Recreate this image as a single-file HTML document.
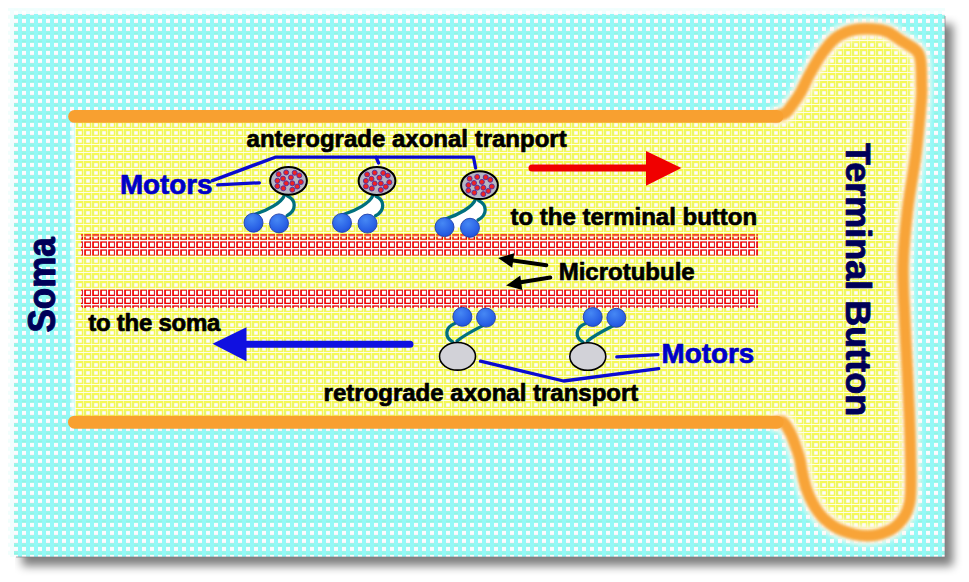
<!DOCTYPE html>
<html><head><meta charset="utf-8"><style>
html,body{margin:0;padding:0;background:#fff;width:969px;height:582px;overflow:hidden}
svg{display:block}
</style></head><body>
<svg width="969" height="582" viewBox="0 0 969 582">
<defs>
  <pattern id="cyan" patternUnits="userSpaceOnUse" x="0" y="0" width="8" height="8">
    <rect width="8" height="8" fill="#8cf4e2"/>
    <rect x="0" y="0.2" width="8" height="1" fill="#94f8f0"/>
    <rect x="2" y="0" width="4" height="8" fill="#94f9f8"/>
    <rect x="6" y="2.8" width="4" height="4.3" fill="#fcfcfe"/>
    <rect x="-2" y="2.8" width="4" height="4.3" fill="#fcfcfe"/>
    <rect x="6" y="6.4" width="4" height="0.7" fill="#fbeefa"/>
    <rect x="-2" y="6.4" width="4" height="0.7" fill="#fbeefa"/>
  </pattern>
  <pattern id="yel" patternUnits="userSpaceOnUse" x="0" y="0" width="8" height="8">
    <rect width="8" height="8" fill="#f5f855"/>
    <rect x="4" y="3" width="2" height="4" fill="#e8f76a"/>
    <rect x="3" y="0" width="1" height="8" fill="#fafca8"/>
    <rect x="0" y="0" width="8" height="1" fill="#fdfde8"/>
    <rect x="6.2" y="3.2" width="3.6" height="3.5" fill="#fdfafd"/>
    <rect x="-1.8" y="3.2" width="3.6" height="3.5" fill="#fdfafd"/>
  </pattern>
  <pattern id="mt" patternUnits="userSpaceOnUse" x="4" y="1" width="8" height="8">
    <rect width="8" height="8" fill="#f4fcfc"/>
    <rect x="0.2" y="0.4" width="6.6" height="6.6" fill="#f20000"/>
    <rect x="1.9" y="1.7" width="4" height="4" fill="#ffffff"/>
    <rect x="6.3" y="0.4" width="0.5" height="6.6" fill="#a00020" opacity="0.6"/>
  </pattern>
  <pattern id="mt1" patternUnits="userSpaceOnUse" x="4" y="234" width="8" height="8">
    <rect x="0.3" y="0.2" width="6.7" height="1.5" fill="#f01818"/>
    <rect x="0.3" y="2.7" width="6.7" height="3" fill="#f20000"/>
    <rect x="1.7" y="2.7" width="3.9" height="1.9" fill="#ffffff"/>
    <rect x="6.4" y="2.7" width="0.6" height="3" fill="#b80018" opacity="0.6"/>
  </pattern>
  <radialGradient id="ball" cx="0.4" cy="0.3" r="0.75">
    <stop offset="0" stop-color="#4688f4"/>
    <stop offset="0.7" stop-color="#2a62e6"/>
    <stop offset="1" stop-color="#1f4fd6"/>
  </radialGradient>
  <filter id="shadow" x="-10%" y="-10%" width="120%" height="120%">
    <feGaussianBlur stdDeviation="5"/>
  </filter>
  <filter id="soft" x="-10%" y="-10%" width="120%" height="120%">
    <feGaussianBlur stdDeviation="1.5"/>
  </filter>
  <filter id="soft2" x="-10%" y="-10%" width="120%" height="120%">
    <feGaussianBlur stdDeviation="1.8"/>
  </filter>
  <filter id="halo" x="-10%" y="-10%" width="120%" height="120%">
    <feGaussianBlur stdDeviation="2.5"/>
  </filter>
  <clipPath id="shclip"><rect x="15" y="15" width="954" height="567"/></clipPath>
</defs>
<rect width="969" height="582" fill="#ffffff"/>
<g clip-path="url(#shclip)"><rect x="22" y="24" width="931" height="542" fill="#000" opacity="0.5" filter="url(#shadow)"/></g>
<rect x="8" y="8" width="937" height="6" fill="url(#cyan)" opacity="0.13"/>
<rect x="8" y="14" width="6" height="543" fill="url(#cyan)" opacity="0.13"/>
<rect x="14" y="14" width="931" height="543" fill="url(#cyan)"/>
<path d="M945,16 V557 H16" fill="none" stroke="#8a7f88" stroke-width="1" opacity="0.7"/>
<path d="M776,116.4 C777.6,115.8 782.8,114.9 785.5,113.0 C788.2,111.1 789.6,108.2 792.0,105.0 C794.4,101.8 796.9,98.9 799.9,93.7 C802.9,88.5 806.2,80.4 809.9,73.8 C813.5,67.2 817.5,59.9 821.8,53.9 C826.1,47.9 830.5,41.9 835.8,37.9 C841.1,33.9 847.4,31.4 853.7,29.9 C860.0,28.4 868.0,28.6 873.6,28.9 C879.2,29.2 882.9,29.9 887.6,31.9 C892.3,33.9 897.0,37.9 901.6,40.9 C906.2,43.9 912.4,46.8 915.5,49.9 C918.6,53.0 919.5,54.1 920.5,59.8 C921.5,65.5 921.4,77.1 921.5,83.8 C921.6,90.5 922.2,88.1 921.3,100.0 C920.3,111.9 918.1,136.7 915.8,155.0 C913.5,173.3 909.6,191.7 907.5,210.0 C905.4,228.3 903.6,246.7 903.1,265.0 C902.6,283.3 904.1,301.7 904.8,320.0 C905.5,338.3 906.7,358.3 907.5,375.0 C908.3,391.7 909.0,407.5 909.5,420.0 C910.0,432.5 910.2,439.1 910.4,450.0 C910.6,460.9 911.0,476.5 910.8,485.5 C910.6,494.5 910.7,498.4 909.3,504.1 C907.9,509.8 905.8,515.0 902.3,519.5 C898.8,524.0 894.3,528.4 888.4,531.1 C882.5,533.8 874.5,535.9 866.7,535.8 C859.0,535.7 848.9,533.1 841.9,530.4 C834.9,527.7 829.5,523.6 824.9,519.5 C820.3,515.4 817.2,510.8 814.1,505.6 C811.0,500.5 808.3,494.4 806.3,488.6 C804.3,482.8 803.1,475.9 802.0,471.0 C800.9,466.1 801.0,463.6 799.9,459.2 C798.8,454.8 796.7,449.1 795.1,444.7 C793.5,440.3 792.3,436.5 790.3,432.7 C788.3,428.9 785.4,423.6 783.0,421.8 C780.6,420.1 777.2,422.1 776.0,422.2 L75,422 L75,117 Z" fill="url(#yel)"/>
<rect x="71" y="122" width="4.5" height="296" fill="#ffffff" opacity="0.75" filter="url(#soft)"/>
<path d="M776,116.4 C777.6,115.8 782.8,114.9 785.5,113.0 C788.2,111.1 789.6,108.2 792.0,105.0 C794.4,101.8 796.9,98.9 799.9,93.7 C802.9,88.5 806.2,80.4 809.9,73.8 C813.5,67.2 817.5,59.9 821.8,53.9 C826.1,47.9 830.5,41.9 835.8,37.9 C841.1,33.9 847.4,31.4 853.7,29.9 C860.0,28.4 868.0,28.6 873.6,28.9 C879.2,29.2 882.9,29.9 887.6,31.9 C892.3,33.9 897.0,37.9 901.6,40.9 C906.2,43.9 912.4,46.8 915.5,49.9 C918.6,53.0 919.5,54.1 920.5,59.8 C921.5,65.5 921.4,77.1 921.5,83.8 C921.6,90.5 922.2,88.1 921.3,100.0 C920.3,111.9 918.1,136.7 915.8,155.0 C913.5,173.3 909.6,191.7 907.5,210.0 C905.4,228.3 903.6,246.7 903.1,265.0 C902.6,283.3 904.1,301.7 904.8,320.0 C905.5,338.3 906.7,358.3 907.5,375.0 C908.3,391.7 909.0,407.5 909.5,420.0 C910.0,432.5 910.2,439.1 910.4,450.0 C910.6,460.9 911.0,476.5 910.8,485.5 C910.6,494.5 910.7,498.4 909.3,504.1 C907.9,509.8 905.8,515.0 902.3,519.5 C898.8,524.0 894.3,528.4 888.4,531.1 C882.5,533.8 874.5,535.9 866.7,535.8 C859.0,535.7 848.9,533.1 841.9,530.4 C834.9,527.7 829.5,523.6 824.9,519.5 C820.3,515.4 817.2,510.8 814.1,505.6 C811.0,500.5 808.3,494.4 806.3,488.6 C804.3,482.8 803.1,475.9 802.0,471.0 C800.9,466.1 801.0,463.6 799.9,459.2 C798.8,454.8 796.7,449.1 795.1,444.7 C793.5,440.3 792.3,436.5 790.3,432.7 C788.3,428.9 785.4,423.6 783.0,421.8 C780.6,420.1 777.2,422.1 776.0,422.2" fill="none" stroke="#fffaf0" stroke-width="20" stroke-linecap="round" stroke-linejoin="round" filter="url(#halo)" opacity="0.85"/>
<path d="M776,116.4 C777.6,115.8 782.8,114.9 785.5,113.0 C788.2,111.1 789.6,108.2 792.0,105.0 C794.4,101.8 796.9,98.9 799.9,93.7 C802.9,88.5 806.2,80.4 809.9,73.8 C813.5,67.2 817.5,59.9 821.8,53.9 C826.1,47.9 830.5,41.9 835.8,37.9 C841.1,33.9 847.4,31.4 853.7,29.9 C860.0,28.4 868.0,28.6 873.6,28.9 C879.2,29.2 882.9,29.9 887.6,31.9 C892.3,33.9 897.0,37.9 901.6,40.9 C906.2,43.9 912.4,46.8 915.5,49.9 C918.6,53.0 919.5,54.1 920.5,59.8 C921.5,65.5 921.4,77.1 921.5,83.8 C921.6,90.5 922.2,88.1 921.3,100.0 C920.3,111.9 918.1,136.7 915.8,155.0 C913.5,173.3 909.6,191.7 907.5,210.0 C905.4,228.3 903.6,246.7 903.1,265.0 C902.6,283.3 904.1,301.7 904.8,320.0 C905.5,338.3 906.7,358.3 907.5,375.0 C908.3,391.7 909.0,407.5 909.5,420.0 C910.0,432.5 910.2,439.1 910.4,450.0 C910.6,460.9 911.0,476.5 910.8,485.5 C910.6,494.5 910.7,498.4 909.3,504.1 C907.9,509.8 905.8,515.0 902.3,519.5 C898.8,524.0 894.3,528.4 888.4,531.1 C882.5,533.8 874.5,535.9 866.7,535.8 C859.0,535.7 848.9,533.1 841.9,530.4 C834.9,527.7 829.5,523.6 824.9,519.5 C820.3,515.4 817.2,510.8 814.1,505.6 C811.0,500.5 808.3,494.4 806.3,488.6 C804.3,482.8 803.1,475.9 802.0,471.0 C800.9,466.1 801.0,463.6 799.9,459.2 C798.8,454.8 796.7,449.1 795.1,444.7 C793.5,440.3 792.3,436.5 790.3,432.7 C788.3,428.9 785.4,423.6 783.0,421.8 C780.6,420.1 777.2,422.1 776.0,422.2" fill="none" stroke="#f8a438" stroke-width="11.5" stroke-linecap="round" stroke-linejoin="round" filter="url(#soft2)"/>
<line x1="74.5" y1="116.4" x2="777" y2="116.4" stroke="#f8a030" stroke-width="12.7" stroke-linecap="round"/>
<line x1="74.5" y1="422.2" x2="777" y2="422.2" stroke="#f8a030" stroke-width="13" stroke-linecap="round"/>
<rect x="81" y="240" width="677" height="15.5" fill="url(#mt)"/>
<rect x="81" y="234" width="677" height="6" fill="url(#mt1)"/>
<rect x="81" y="289.5" width="677" height="18.3" fill="url(#mt)"/>
<g stroke="#0a0ad0" stroke-width="3.3" fill="none" stroke-linecap="round" stroke-linejoin="round">
  <polyline points="212.4,180.6 275.3,157.2 473.5,157.2 475.6,168"/>
  <line x1="376" y1="157.2" x2="378.6" y2="163"/>
  <line x1="217.7" y1="184.8" x2="259.4" y2="182.8"/>
  <polyline points="480.5,361.2 563.6,381 658.7,368.7"/>
  <line x1="616.8" y1="356.8" x2="658" y2="354.7"/>
</g>
<g transform="translate(288.5,180.8)">
<path d="M-4.1,14.5 C-7,22 -21,29.5 -33,33 L-35,42 L-9.5,42.6 L-1,34.3 C8.5,29.5 7.5,19 -1,15.3 Z" fill="#ffffff"/>
<path d="M-4.1,14.5 C-7,22 -21,29.5 -33.5,33.5" fill="none" stroke="#00707e" stroke-width="3.3" stroke-linecap="round"/>
<path d="M-1,15.3 C7.5,19 8.5,29.5 -1.5,34.8" fill="none" stroke="#00707e" stroke-width="3.3" stroke-linecap="round"/>
<circle cx="-35.0" cy="41.9" r="9.5" fill="url(#ball)" stroke="#2040a8" stroke-width="0.9"/>
<circle cx="-9.5" cy="42.6" r="9.5" fill="url(#ball)" stroke="#2040a8" stroke-width="0.9"/>
<ellipse cx="0" cy="0" rx="18.4" ry="13.9" fill="#b6b6c4" stroke="#000" stroke-width="2"/>
<circle cx="-9.9" cy="-6.6" r="2.5" fill="#f02222" stroke="#5030a0" stroke-width="0.9"/>
<circle cx="-2.3" cy="-8.3" r="2.5" fill="#f02222" stroke="#5030a0" stroke-width="0.9"/>
<circle cx="6.2" cy="-8" r="2.5" fill="#f02222" stroke="#5030a0" stroke-width="0.9"/>
<circle cx="10.8" cy="-5.4" r="2.5" fill="#f02222" stroke="#5030a0" stroke-width="0.9"/>
<circle cx="-11.1" cy="-0.1" r="2.5" fill="#f02222" stroke="#5030a0" stroke-width="0.9"/>
<circle cx="-5.5" cy="-2.2" r="2.5" fill="#f02222" stroke="#5030a0" stroke-width="0.9"/>
<circle cx="2.4" cy="-3.3" r="2.5" fill="#f02222" stroke="#5030a0" stroke-width="0.9"/>
<circle cx="-2.3" cy="2.5" r="2.5" fill="#f02222" stroke="#5030a0" stroke-width="0.9"/>
<circle cx="3.8" cy="2.5" r="2.5" fill="#f02222" stroke="#5030a0" stroke-width="0.9"/>
<circle cx="12.3" cy="1.3" r="2.5" fill="#f02222" stroke="#5030a0" stroke-width="0.9"/>
<circle cx="-11.1" cy="5.4" r="2.5" fill="#f02222" stroke="#5030a0" stroke-width="0.9"/>
<circle cx="-5.2" cy="7.5" r="2.5" fill="#f02222" stroke="#5030a0" stroke-width="0.9"/>
<circle cx="3.8" cy="8.9" r="2.5" fill="#f02222" stroke="#5030a0" stroke-width="0.9"/>
<circle cx="8.8" cy="5.7" r="2.5" fill="#f02222" stroke="#5030a0" stroke-width="0.9"/>
</g>
<g transform="translate(377,181)">
<path d="M-4.1,14.5 C-7,22 -21,29.5 -33,33 L-35,42 L-9.5,42.6 L-1,34.3 C8.5,29.5 7.5,19 -1,15.3 Z" fill="#ffffff"/>
<path d="M-4.1,14.5 C-7,22 -21,29.5 -33.5,33.5" fill="none" stroke="#00707e" stroke-width="3.3" stroke-linecap="round"/>
<path d="M-1,15.3 C7.5,19 8.5,29.5 -1.5,34.8" fill="none" stroke="#00707e" stroke-width="3.3" stroke-linecap="round"/>
<circle cx="-35.0" cy="41.9" r="9.5" fill="url(#ball)" stroke="#2040a8" stroke-width="0.9"/>
<circle cx="-9.5" cy="42.6" r="9.5" fill="url(#ball)" stroke="#2040a8" stroke-width="0.9"/>
<ellipse cx="0" cy="0" rx="18.4" ry="13.9" fill="#b6b6c4" stroke="#000" stroke-width="2"/>
<circle cx="-9.9" cy="-6.6" r="2.5" fill="#f02222" stroke="#5030a0" stroke-width="0.9"/>
<circle cx="-2.3" cy="-8.3" r="2.5" fill="#f02222" stroke="#5030a0" stroke-width="0.9"/>
<circle cx="6.2" cy="-8" r="2.5" fill="#f02222" stroke="#5030a0" stroke-width="0.9"/>
<circle cx="10.8" cy="-5.4" r="2.5" fill="#f02222" stroke="#5030a0" stroke-width="0.9"/>
<circle cx="-11.1" cy="-0.1" r="2.5" fill="#f02222" stroke="#5030a0" stroke-width="0.9"/>
<circle cx="-5.5" cy="-2.2" r="2.5" fill="#f02222" stroke="#5030a0" stroke-width="0.9"/>
<circle cx="2.4" cy="-3.3" r="2.5" fill="#f02222" stroke="#5030a0" stroke-width="0.9"/>
<circle cx="-2.3" cy="2.5" r="2.5" fill="#f02222" stroke="#5030a0" stroke-width="0.9"/>
<circle cx="3.8" cy="2.5" r="2.5" fill="#f02222" stroke="#5030a0" stroke-width="0.9"/>
<circle cx="12.3" cy="1.3" r="2.5" fill="#f02222" stroke="#5030a0" stroke-width="0.9"/>
<circle cx="-11.1" cy="5.4" r="2.5" fill="#f02222" stroke="#5030a0" stroke-width="0.9"/>
<circle cx="-5.2" cy="7.5" r="2.5" fill="#f02222" stroke="#5030a0" stroke-width="0.9"/>
<circle cx="3.8" cy="8.9" r="2.5" fill="#f02222" stroke="#5030a0" stroke-width="0.9"/>
<circle cx="8.8" cy="5.7" r="2.5" fill="#f02222" stroke="#5030a0" stroke-width="0.9"/>
</g>
<g transform="translate(479.5,185.2)">
<path d="M-4.1,14.5 C-7,22 -21,29.5 -33,33 L-35,42 L-9.5,42.6 L-1,34.3 C8.5,29.5 7.5,19 -1,15.3 Z" fill="#ffffff"/>
<path d="M-4.1,14.5 C-7,22 -21,29.5 -33.5,33.5" fill="none" stroke="#00707e" stroke-width="3.3" stroke-linecap="round"/>
<path d="M-1,15.3 C7.5,19 8.5,29.5 -1.5,34.8" fill="none" stroke="#00707e" stroke-width="3.3" stroke-linecap="round"/>
<circle cx="-35.0" cy="41.9" r="9.5" fill="url(#ball)" stroke="#2040a8" stroke-width="0.9"/>
<circle cx="-9.5" cy="42.6" r="9.5" fill="url(#ball)" stroke="#2040a8" stroke-width="0.9"/>
<ellipse cx="0" cy="0" rx="18.4" ry="13.9" fill="#b6b6c4" stroke="#000" stroke-width="2"/>
<circle cx="-9.9" cy="-6.6" r="2.5" fill="#f02222" stroke="#5030a0" stroke-width="0.9"/>
<circle cx="-2.3" cy="-8.3" r="2.5" fill="#f02222" stroke="#5030a0" stroke-width="0.9"/>
<circle cx="6.2" cy="-8" r="2.5" fill="#f02222" stroke="#5030a0" stroke-width="0.9"/>
<circle cx="10.8" cy="-5.4" r="2.5" fill="#f02222" stroke="#5030a0" stroke-width="0.9"/>
<circle cx="-11.1" cy="-0.1" r="2.5" fill="#f02222" stroke="#5030a0" stroke-width="0.9"/>
<circle cx="-5.5" cy="-2.2" r="2.5" fill="#f02222" stroke="#5030a0" stroke-width="0.9"/>
<circle cx="2.4" cy="-3.3" r="2.5" fill="#f02222" stroke="#5030a0" stroke-width="0.9"/>
<circle cx="-2.3" cy="2.5" r="2.5" fill="#f02222" stroke="#5030a0" stroke-width="0.9"/>
<circle cx="3.8" cy="2.5" r="2.5" fill="#f02222" stroke="#5030a0" stroke-width="0.9"/>
<circle cx="12.3" cy="1.3" r="2.5" fill="#f02222" stroke="#5030a0" stroke-width="0.9"/>
<circle cx="-11.1" cy="5.4" r="2.5" fill="#f02222" stroke="#5030a0" stroke-width="0.9"/>
<circle cx="-5.2" cy="7.5" r="2.5" fill="#f02222" stroke="#5030a0" stroke-width="0.9"/>
<circle cx="3.8" cy="8.9" r="2.5" fill="#f02222" stroke="#5030a0" stroke-width="0.9"/>
<circle cx="8.8" cy="5.7" r="2.5" fill="#f02222" stroke="#5030a0" stroke-width="0.9"/>
</g>
<g transform="translate(457.5,356.3)">
<path d="M-4.8,-14.4 C-13,-19 -13,-29 -2.2,-33" fill="none" stroke="#00707e" stroke-width="3.3" stroke-linecap="round"/>
<path d="M-0.5,-15.3 C4,-19 14,-25 25.3,-30.7" fill="none" stroke="#00707e" stroke-width="3.3" stroke-linecap="round"/>
<circle cx="4.9" cy="-39.5" r="9.5" fill="url(#ball)" stroke="#2040a8" stroke-width="0.9"/>
<circle cx="28.5" cy="-38.7" r="9.5" fill="url(#ball)" stroke="#2040a8" stroke-width="0.9"/>
<ellipse cx="0" cy="0" rx="18" ry="13.8" fill="#d2d2d8" stroke="#000" stroke-width="1.6"/>
</g>
<g transform="translate(587.8,356.5)">
<path d="M-4.8,-14.4 C-13,-19 -13,-29 -2.2,-33" fill="none" stroke="#00707e" stroke-width="3.3" stroke-linecap="round"/>
<path d="M-0.5,-15.3 C4,-19 14,-25 25.3,-30.7" fill="none" stroke="#00707e" stroke-width="3.3" stroke-linecap="round"/>
<circle cx="4.9" cy="-39.5" r="9.5" fill="url(#ball)" stroke="#2040a8" stroke-width="0.9"/>
<circle cx="28.5" cy="-38.7" r="9.5" fill="url(#ball)" stroke="#2040a8" stroke-width="0.9"/>
<ellipse cx="0" cy="0" rx="18" ry="13.8" fill="#d2d2d8" stroke="#000" stroke-width="1.6"/>
</g>
<line x1="532" y1="168.1" x2="650" y2="168.1" stroke="#f00000" stroke-width="7" stroke-linecap="round"/>
<polygon points="646,151.1 681.4,167.9 646,185.7" fill="#f00000"/>
<line x1="243" y1="344.3" x2="410" y2="344.3" stroke="#1010e0" stroke-width="7" stroke-linecap="round"/>
<polygon points="246.5,327.3 212.5,343.8 246.5,361.3" fill="#1010e0"/>
<line x1="546.3" y1="265.2" x2="508" y2="259.8" stroke="#000" stroke-width="4" stroke-linecap="round"/>
<polygon points="498.1,258.1 514.2,253.2 512.2,267.8" fill="#000"/>
<line x1="550.3" y1="277.5" x2="516" y2="283" stroke="#000" stroke-width="4" stroke-linecap="round"/>
<polygon points="506.1,285.5 520.3,275.4 522.3,290" fill="#000"/>
<g font-family='"Liberation Sans", sans-serif' font-weight="bold" stroke-linejoin="round">
  <text x="246.6" y="146.8" font-size="24" fill="#000" stroke="#000" stroke-width="0.7" >anterograde axonal tranport</text>
  <text x="119.9" y="193.9" font-size="27.8" fill="#0000c8" stroke="#0000c8" stroke-width="0.7" >Motors</text>
  <text x="510.5" y="224.7" font-size="24" fill="#000" stroke="#000" stroke-width="0.7" >to the terminal button</text>
  <text x="558.7" y="280.4" font-size="24" fill="#000" stroke="#000" stroke-width="0.7" >Microtubule</text>
  <text x="88.2" y="330.6" font-size="24" fill="#000" stroke="#000" stroke-width="0.7" letter-spacing="-0.25">to the soma</text>
  <text x="323.6" y="401.4" font-size="24" fill="#000" stroke="#000" stroke-width="0.7" >retrograde axonal transport</text>
  <text x="661.6" y="363" font-size="27.8" fill="#0000c8" stroke="#0000c8" stroke-width="0.7" >Motors</text>
  <text x="0" y="0" font-size="36" fill="#000058" stroke="#000058" stroke-width="0.9" transform="translate(846.3,143) rotate(90) scale(1,0.95)">Terminal Button</text>
  <text x="0" y="0" font-size="35" fill="#000058" stroke="#000058" stroke-width="0.9" transform="translate(55.3,332.5) rotate(-90) scale(1,1.1)">Soma</text>
</g>
</svg>
</body></html>
